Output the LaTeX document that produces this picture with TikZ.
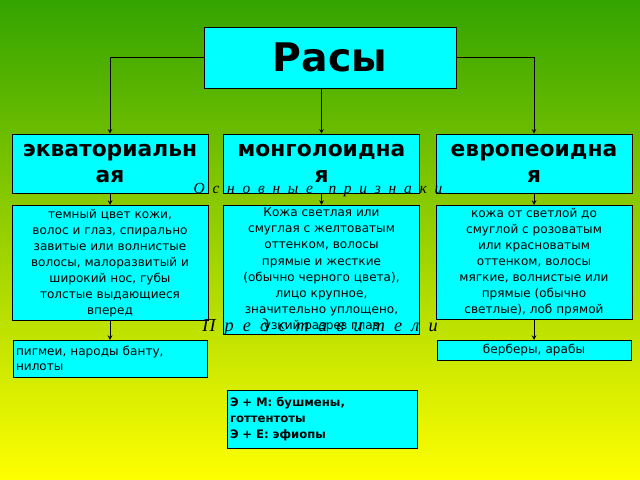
\documentclass[tikz,border=0pt]{standalone}
\usepackage{fontspec}
\setmainfont{DejaVu Sans}
\newfontfamily\serifit{Liberation Serif}
\definecolor{boxcyan}{RGB}{0,255,255}
\begin{document}
\begin{tikzpicture}[x=0.025cm,y=-0.025cm,
  box/.style={draw,fill=boxcyan,inner sep=2pt,align=center,line width=0.4pt},
  race/.style={box,font=\fontsize{15.5}{18}\selectfont\bfseries,minimum width=196*0.025cm,minimum height=59*0.025cm},
  trait/.style={box,font=\fontsize{8.6}{11.4}\selectfont,minimum width=196*0.025cm,anchor=north},
  hint/.style={font=\serifit\itshape\fontsize{11}{12}\selectfont},
  link/.style={draw,->,>=stealth,line width=0.5pt}]
	\shade[top color=green!55!black!80!yellow, middle color=green!35!yellow, bottom color=yellow] (0,0) rectangle (640,480);
	\node[box,font=\fontsize{28}{30}\selectfont\bfseries,minimum width=252*0.025cm,minimum height=61*0.025cm] (title) at (330,57.5) {Расы};
	\node[race] (eq) at (110,163.5) {экваториальн\\ая};
	\node[race] (mo) at (321.5,163.5) {монголоидна\\я};
	\node[race] (eu) at (534,163.5) {европеоидна\\я};
	\node[trait,minimum height=115*0.025cm] (teq) at (110,205) {темный цвет кожи,\\волос и глаз, спирально\\завитые или волнистые\\волосы, малоразвитый и\\широкий нос, губы\\толстые выдающиеся\\вперед};
	\node[trait,minimum height=128*0.025cm] (tmo) at (321.5,205) {Кожа светлая или\\смуглая с желтоватым\\оттенком, волосы\\прямые и жесткие\\(обычно черного цвета),\\лицо крупное,\\значительно уплощено,\\узкий разрез глаз};
	\node[trait,minimum height=110*0.025cm] (teu) at (534,205) {кожа от светлой до\\смуглой с розоватым\\или красноватым\\оттенком, волосы\\мягкие, волнистые или\\прямые (обычно\\светлые), лоб прямой};
	\node[box,font=\fontsize{8.6}{10.6}\selectfont,text width=188*0.025cm,align=left,anchor=north,minimum height=37*0.025cm] (peq) at (110,340) {пигмеи, народы банту, нилоты};
	\node[box,font=\fontsize{8.6}{10.6}\selectfont,text width=188*0.025cm,anchor=north,minimum height=20*0.025cm] (peu) at (534,340) {берберы, арабы};
	\node[box,font=\fontsize{8.3}{11.5}\selectfont\bfseries,text width=184*0.025cm,align=left,anchor=north,minimum height=58*0.025cm] (pmix) at (322,390) {Э + М: бушмены, готтентоты\\Э + Е: эфиопы};
	\draw[link] (title.west) -| (eq.north);
	\draw[link] (title.east) -| (eu.north);
	\draw[link] (title.south -| mo.north) -- (mo.north);
	\draw[link] (eq) -- (teq);
	\draw[link] (mo) -- (tmo);
	\draw[link] (eu) -- (teu);
	\draw[link] (teq) -- (peq);
	\draw[link] (teu) -- (peu);
	% partly hidden captions
	\node[hint] (hint1) at (318,190) {О\enspace с\enspace н\enspace о\enspace в\enspace н\enspace ы\enspace е\quad п\enspace р\enspace и\enspace з\enspace н\enspace а\enspace к\enspace и};
	\node[hint,font=\serifit\itshape\fontsize{13}{14}\selectfont] (hint2) at (320,327) {П\enspace р\enspace е\enspace д\enspace с\enspace т\enspace а\enspace в\enspace и\enspace т\enspace е\enspace л\enspace и};
\end{tikzpicture}
\end{document}
